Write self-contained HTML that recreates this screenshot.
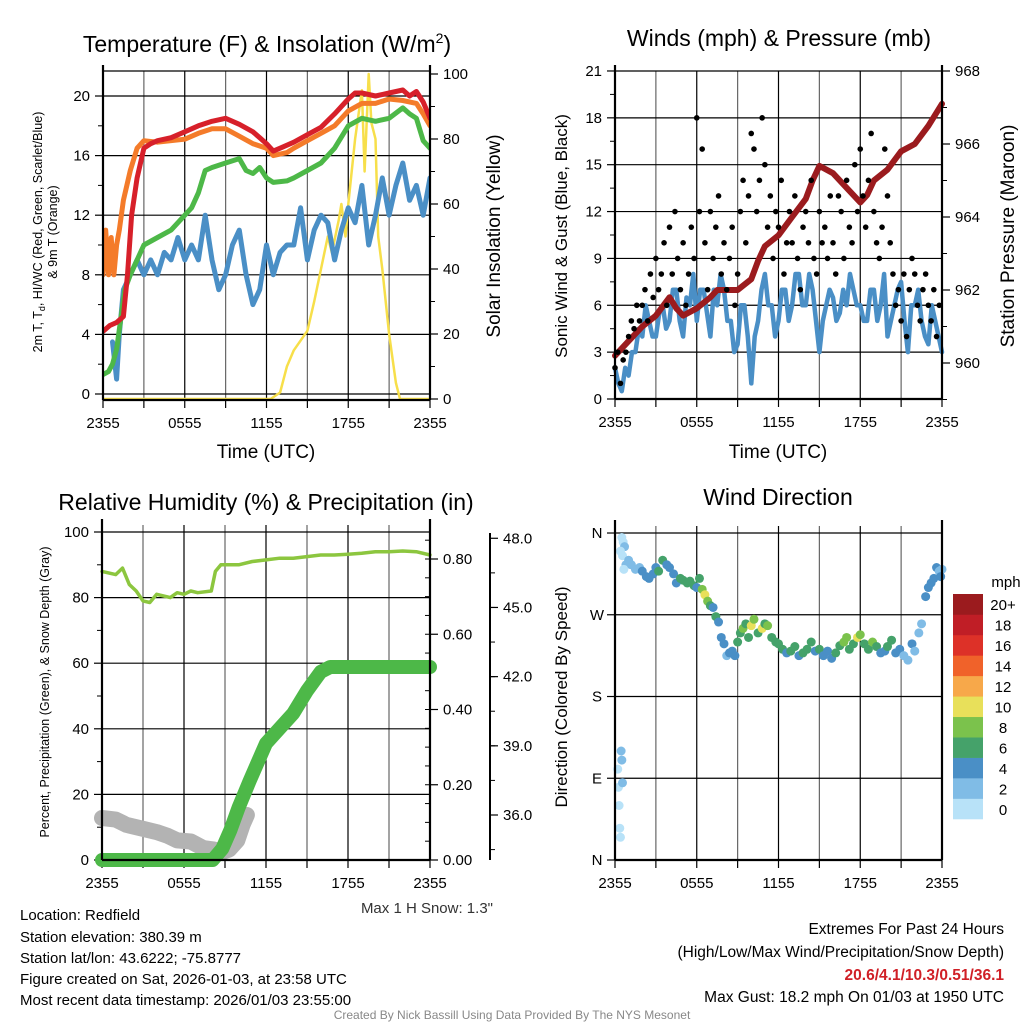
<!DOCTYPE html>
<html><head><meta charset="utf-8"><style>
body{margin:0;background:#fff}
svg{display:block;font-family:"Liberation Sans",Arial,sans-serif}
</style></head><body>
<svg id="c" width="1024" height="1024" viewBox="0 0 1024 1024">
<rect width="1024" height="1024" fill="#fff"/>
<g font-size="23" text-anchor="middle" fill="#000">
<text x="267" y="52">Temperature (F) &amp; Insolation (W/m<tspan font-size="14" dy="-9">2</tspan><tspan dy="9">)</tspan></text>
<text x="779" y="46">Winds (mph) &amp; Pressure (mb)</text>
<text x="266" y="510">Relative Humidity (%) &amp; Precipitation (in)</text>
<text x="778" y="505">Wind Direction</text>
</g>
<g font-size="19" text-anchor="middle">
<text x="266" y="458">Time (UTC)</text>
<text x="778" y="458">Time (UTC)</text>
<text transform="translate(500,236) rotate(-90)">Solar Insolation (Yellow)</text>
<text transform="translate(1014,236) rotate(-90)">Station Pressure (Maroon)</text>
</g>
<g font-size="17" text-anchor="middle">
<text transform="translate(567,236) rotate(-90)">Sonic Wind &amp; Gust (Blue, Black)</text>
<text transform="translate(567,697) rotate(-90)">Direction (Colored By Speed)</text>
</g>
<g font-size="12.5" text-anchor="middle">
<text transform="translate(42,232) rotate(-90)">2m T, T<tspan font-size="9" dy="3">d</tspan><tspan dy="-3">, HI/WC (Red, Green, Scarlet/Blue)</tspan></text>
<text transform="translate(57,232) rotate(-90)">&amp; 9m T (Orange)</text>
<text transform="translate(49,692) rotate(-90)">Percent, Precipitation (Green), &amp; Snow Depth (Gray)</text>
</g>
<text x="493" y="913" font-size="15" text-anchor="end" fill="#333">Max 1 H Snow: 1.3"</text>
<g font-size="15">
<text x="20" y="920">Location: Redfield</text>
<text x="20" y="942">Station elevation: 380.39 m</text>
<text x="20" y="963">Station lat/lon: 43.6222; -75.8777</text>
<text x="20" y="984">Figure created on Sat, 2026-01-03, at 23:58 UTC</text>
<text x="20" y="1005">Most recent data timestamp: 2026/01/03 23:55:00</text>
</g>
<g font-size="15.5" text-anchor="end">
<text x="1004" y="934">Extremes For Past 24 Hours</text>
<text x="1004" y="957">(High/Low/Max Wind/Precipitation/Snow Depth)</text>
<text x="1004" y="980" fill="#d01f26" font-weight="bold">20.6/4.1/10.3/0.51/36.1</text>
<text x="1004" y="1002">Max Gust: 18.2 mph On 01/03 at 1950 UTC</text>
</g>
<text x="512" y="1019" font-size="12" text-anchor="middle" fill="#888">Created By Nick Bassill Using Data Provided By The NYS Mesonet</text>
</svg>
<script>
// ---- Panel 1 data ----
const tRed=[0,0.5,1,1.5,1.8,2.1,2.5,3,3.5,4,5,6,7,8,9,10,11,11.5,12,12.5,13,14,15,16,17,18,18.5,19,20,21,22,22.5,23,23.5,24];
const vRed=[4.2,4.6,4.8,5.2,8,12,14.5,16.5,16.8,17,17.2,17.6,18,18.3,18.5,18.1,17.6,17.2,16.8,16.3,16.5,16.9,17.4,17.9,18.8,19.8,20.2,20.2,20.0,20.2,20.4,20.0,20.3,19.6,18.5];
const tOrg=[0,0.2,0.4,0.6,0.8,1,1.2,1.5,2,2.5,3,4,5,6,7,8,9,10,11,12,12.5,13.5,14,15,16,17,18,19,20,21,22,23,23.5,24];
const vOrg=[8,11,8,10.5,8,10,11,13,15,16.5,17,16.9,17,17.1,17.5,17.8,17.8,17.3,16.8,16.5,16.0,16.2,16.5,17,17.5,18,19,19.5,19.5,19.8,19.7,19.5,18.8,18];
const tGrn=[0,0.4,0.7,1,1.3,1.6,2,2.5,3,4,5,6,6.5,7,7.5,8,9,10,10.5,11,11.5,12,12.5,13.5,14,15,16,17,18,19,20,21,22,22.5,23,23.5,24];
const vGrn=[1.3,1.5,2,3,5,7,8,9,10,10.5,11,12,12.5,13.5,15,15.2,15.5,15.8,15,14.8,15.2,14.5,14.2,14.3,14.5,15,15.5,16.5,18,18.5,18.3,18.5,19.2,18.8,18.5,17,16.5];
const tBlu=[0.7,1,1.2,1.5,2,2.5,3,3.5,4,4.5,5,5.5,6,6.5,7,7.5,8,8.5,9,9.5,10,10.5,11,11.5,12,12.5,13,13.5,14,14.5,15,15.5,16,16.5,17,17.5,18,18.5,19,19.5,20,20.5,21,21.5,22,22.5,23,23.5,24];
const vBlu=[3.5,1,4,7,8,9,8,9,8,9.5,9,10.5,9,10,9,12,9,7,8,10,11,8,6,7,10,8,9.5,10,10,12.5,9,11,12,11.5,9,11,12.5,11.5,14,10,12,14.5,12,14,15.5,13,14,12,14.5];
const tSol=[0,12.3,13,13.5,14,15,15.5,16,16.5,16.8,17.3,17.5,17.8,18,18.5,19,19.2,19.5,19.7,20,20.2,20.5,21,21.5,21.8,24];
const vSol=[0,0,2,10,15,21,30,40,50,45,55,60,50,60,80,95,70,100,85,80,50,40,20,5,0,0];
// ---- Panel 2 data ----
const tPres=[0,1,2,3,4,4.5,5,6,7,7.5,8,9,10,10.5,11,12,13,14,14.5,15,16,17,18,18.5,19,20,21,22,23,24];
const vPres=[960.2,960.6,961,961.3,961.8,961.5,961.3,961.5,961.8,962,962,962,962.3,962.8,963.2,963.5,964,964.5,965,965.4,965.2,964.8,964.4,964.6,965,965.3,965.8,966,966.5,967.1];
const tWind=[0,0.25,0.5,0.75,1,1.25,1.5,1.75,2,2.25,2.5,2.75,3,3.25,3.5,3.75,4,4.25,4.5,4.75,5,5.25,5.5,5.75,6,6.25,6.5,6.75,7,7.25,7.5,7.75,8,8.25,8.5,8.75,9,9.25,9.5,9.75,10,10.25,10.5,10.75,11,11.25,11.5,11.75,12,12.25,12.5,12.75,13,13.25,13.5,13.75,14,14.25,14.5,14.75,15,15.25,15.5,15.75,16,16.25,16.5,16.75,17,17.25,17.5,17.75,18,18.25,18.5,18.75,19,19.25,19.5,19.75,20,20.25,20.5,20.75,21,21.25,21.5,21.75,22,22.25,22.5,22.75,23,23.25,23.5,23.75,24];
const vWind=[2,1,0.5,2,1.5,3,3,4.5,4,6,5,4,4,5.5,6,4.5,5,7,7,5,4,6.5,6,8,5,7,7,5.5,4,7,6,8,7,5,5,3,3.5,6,6,4,1,4,5,7,8,6,6,4,5,7,7,5,6,8,8,6,6,8,7,5,3,5,6,7,6.5,5,5.5,7,6,8,7,6,6,5,5,7,7,5,6,8,4,5,6,7,7.5,5,3,6,6,7,5,4,3.5,6,5,4,3];
const vGust=[2,3,1,2.5,3,4,5,4.5,6,5,6,7,5,8,6.5,9,7,8,10,6,11,8,12,9,7,10,6,8,11,9,18,12,16,10,7,12,9,11,13,8,10,7,9,11,6,8,12,14,10,13,17,16,12,14,18,15,11,13,9,12,11,14,8,10,12,10,13,9,7,11,12,10,14,9,8,12,10,11,9,13,10,8,13,12,9,14,11,10,15,12,16,13,11,14,17,12,10,9,11,16,13,10,8,6,7,5,8,4,7,9,8,6,5,7,8,6,5,7,4,6];
// ---- Panel 3 data ----
const tRH=[0,1,1.5,2,2.5,3,3.5,4,5,5.5,6,6.5,7,8,8.3,8.7,10,11,12,13,14,15,16,17,18,19,20,21,22,23,24];
const vRH=[88,87,89,84,82,79,78.5,81,80,81.5,81,82,81.5,82,88,90,90,91,91.5,92,92,92.5,93,93,93.2,93.5,94,94,94.2,94,93];
const tPcp=[0,8.1,8.8,9.4,10,10.8,12,13,14,15,16,16.7,24];
const vPcp=[0,0,0.03,0.08,0.14,0.21,0.31,0.35,0.39,0.45,0.5,0.513,0.513];
const tSnow=[0,1,1.8,3,4,4.8,5.5,6.5,7.4,8.2,8.8,9.3,9.9,10.3,10.6];
const vSnow=[35.87,35.8,35.57,35.4,35.26,35.1,34.9,34.85,34.57,34.5,34.4,34.5,34.9,35.6,36.0];
// ---- Panel 4 data ----
const tDir=[0.2,0.25,0.3,0.35,0.4,0.45,0.5,0.55,0.5,0.6,0.7,0.4,0.55,0.8,0.65,1,1.2,1.5,1.8,2,2.3,2.5,2.8,3,3.2,3.5,3.8,4,4.3,4.5,4.8,5,5.3,5.5,5.8,6,6.2,6.4,6.6,6.8,7,7.2,7.4,7.6,7.8,8,8.2,8.4,8.6,8.8,9,9.2,9.4,9.6,9.8,10,10.2,10.5,10.8,11,11.2,11.5,11.8,12,12.3,12.6,12.9,13.2,13.5,13.8,14.1,14.4,14.7,15,15.3,15.6,15.9,16.2,16.5,16.8,17,17.2,17.5,17.8,18,18.3,18.6,18.9,19.2,19.5,19.8,20,20.3,20.6,20.9,21.2,21.5,21.8,22,22.3,22.5,22.8,23,23.2,23.4,23.6,23.8,24,23.9];
const vDir=[100,80,60,35,25,120,110,85,355,350,345,340,335,325,320,330,325,320,322,318,312,310,315,322,318,330,325,322,315,305,310,308,305,307,302,300,310,298,292,285,280,278,268,262,245,238,225,228,230,225,240,250,255,260,245,258,265,250,255,260,258,245,240,238,232,228,230,235,225,228,232,240,230,232,225,230,222,228,236,240,245,232,238,245,248,238,232,240,235,228,230,235,242,228,232,225,220,238,230,250,260,290,300,305,310,322,318,320,312];
const vSpd=[1,1,1,1,1,2,2,3,1,1,2,1,1,2,1,2,2,3,3,4,4,4,5,4,6,6,4,5,4,4,6,6,6,6,6,5,7,8,10,8,6,5,6,4,4,4,3,4,5,4,6,6,8,7,7,10,8,6,10,6,8,7,6,6,6,5,6,6,4,6,6,6,4,6,5,4,4,6,6,8,8,6,7,10,8,6,6,8,6,5,4,6,6,5,4,3,3,4,3,3,3,4,5,4,4,4,2,3,4];
const cbLabels=["0","2","4","6","8","10","12","14","16","18","20+"];
const cbColors=["#b8e2f8","#80bce6","#4a8fc6","#45a26a","#7bc24c","#e8e05a","#f7a84a","#f0622a","#dd3128","#c01e26","#9b1b1e"];
const xTickLabels=["2355","0555","1155","1755","2355"];
const tempTicks=[0,4,8,12,16,20];
const solarTicks=[0,20,40,60,80,100];
const windTicks=[0,3,6,9,12,15,18,21];
const presTicks=[960,962,964,966,968];
const rhTicks=[0,20,40,60,80,100];
const pcpTicks=[0,0.2,0.4,0.6,0.8];
const snowTicks=[36,39,42,45,48];
const dirTicks=[0,90,180,270,360];
const dirLabels=["N","E","S","W","N"];

const NS="http://www.w3.org/2000/svg";
const svg=document.getElementById('c');
function el(tag,at,parent){const e=document.createElementNS(NS,tag);for(const k in at)e.setAttribute(k,at[k]);(parent||svg).appendChild(e);return e;}
function linePath(ts,vs,xf,yf){return ts.map((t,i)=>(i?'L':'M')+xf(t).toFixed(1)+','+yf(vs[i]).toFixed(1)).join('');}

const x1=t=>103+t*327/24, x2=t=>615+t*327/24, x3=t=>102+t*328/24, x4=t=>615+t*327/24;
const yT=v=>394-v*14.9, yS=v=>399-v*3.25;
const yW=v=>399-v*15.62, yP=p=>71+(968-p)*36.5;
const yR=v=>860-v*3.28, yPc=v=>860-v*376.25, ySn=v=>815-(v-36)*23.06;
const yD=d=>860-d*0.9083;

function grid(g,xf,L,R,T,B,hy){
  for(let h=0;h<=24;h+=3){el('line',{x1:xf(h),x2:xf(h),y1:T,y2:B,stroke:h%6?'#666':'#000','stroke-width':1.2},g);}
  hy.forEach(y=>el('line',{x1:L,x2:R,y1:y,y2:y,stroke:'#000','stroke-width':1.2},g));
}
function xaxis(g,xf,B){
  for(let h=0;h<=24;h+=3){el('line',{x1:xf(h),x2:xf(h),y1:B,y2:B+8,stroke:'#000','stroke-width':1.2},g);}
  xTickLabels.forEach((s,i)=>{const t=el('text',{x:xf(i*6),y:B+28,'font-size':15,'text-anchor':'middle'},g);t.textContent=s;});
}
function yaxis(g,x,ticks,yf,fmt,side,minor){
  const d=side<0?-1:1;
  ticks.forEach(v=>{const y=yf(v);el('line',{x1:x,x2:x+d*8,y1:y,y2:y,stroke:'#000','stroke-width':1.2},g);
    const t=el('text',{x:x+d*13,y:y+5,'font-size':15,'text-anchor':d<0?'end':'start'},g);t.textContent=fmt(v);});
  if(minor)minor.forEach(v=>{const y=yf(v);el('line',{x1:x,x2:x+d*5,y1:y,y2:y,stroke:'#000','stroke-width':1},g);});
}
function frame(g,L,R,T,B){
  el('line',{x1:L,x2:L,y1:T-6,y2:B,stroke:'#000','stroke-width':2.2},g);
  el('line',{x1:R,x2:R,y1:T-6,y2:B,stroke:'#000','stroke-width':2.2},g);
  el('line',{x1:L,x2:R,y1:B,y2:B,stroke:'#000','stroke-width':2.2},g);
}
function series(g,name,ts,vs,xf,yf,color,w){
  const p=el('path',{d:linePath(ts,vs,xf,yf),fill:'none',stroke:color,'stroke-width':w,'stroke-linejoin':'round','stroke-linecap':'round'},g);
  
  
  return p;
}
const range=(a,b,s)=>{const r=[];for(let v=a;v<=b+1e-9;v+=s)r.push(v);return r;};

// Panel 1
const g1=el('g',{});


const cp=el('clipPath',{id:'cp1'},g1);
el('rect',{x:103,y:60,width:327,height:340},cp);
grid(g1,x1,103,430,71,400,tempTicks.map(yT).concat([71]));
xaxis(g1,x1,400);
yaxis(g1,103,tempTicks,yT,v=>v,-1,range(2,20,4));
yaxis(g1,430,solarTicks,yS,v=>v,1,range(10,90,20));
const d1=el('g',{'clip-path':'url(#cp1)'},g1);
series(d1,'solar-line',tSol,vSol,x1,yS,'#f7df4a',2.5);
series(d1,'heat-index-line',tBlu,vBlu,x1,yT,'#4a8fc6',5);
series(d1,'dewpoint-line',tGrn,vGrn,x1,yT,'#4db848',5);
series(d1,'temp-9m-line',tOrg,vOrg,x1,yT,'#f47b2a',5);
series(d1,'temp-2m-line',tRed,vRed,x1,yT,'#d7202a',5);
frame(g1,103,430,71,400);

// Panel 2
const g2=el('g',{});


grid(g2,x2,615,942,71,399,windTicks.map(yW));
xaxis(g2,x2,399);
yaxis(g2,615,windTicks,yW,v=>v,-1,range(1.5,19.5,3));
yaxis(g2,942,presTicks,yP,v=>v,1,range(959,967,2));
series(g2,'wind-speed-line',tWind,vWind,x2,yW,'#4a8fc6',4.5);
series(g2,'pressure-line',tPres,vPres,x2,yP,'#9b1b1e',6);
vGust.forEach((v,i)=>{const c=el('circle',{cx:x2(i*0.2),cy:yW(v),r:2.8,fill:'#000'},g2);
  
  });
frame(g2,615,942,71,399);

// Panel 3
const g3=el('g',{});


grid(g3,x3,102,430,525,860,rhTicks.map(yR));
xaxis(g3,x3,860);
yaxis(g3,102,rhTicks,yR,v=>v,-1,range(10,90,20));
yaxis(g3,430,pcpTicks,yPc,v=>v.toFixed(2),1,null);
range(0.05,0.85,0.05).forEach(v=>{const y=yPc(v);el('line',{x1:430,x2:425,y1:y,y2:y,stroke:'#000','stroke-width':1},g3);});
el('line',{x1:490,x2:490,y1:533,y2:860,stroke:'#000','stroke-width':2},g3);
yaxis(g3,490,snowTicks,ySn,v=>v.toFixed(1),1,range(34.5,46.5,1.5));
series(g3,'snow-depth-line',tSnow,vSnow,x3,ySn,'#b3b3b3',16);
series(g3,'precipitation-line',tPcp,vPcp,x3,yPc,'#4db848',14);
series(g3,'rh-line',tRH,vRH,x3,yR,'#8cc63f',3.5);
frame(g3,102,430,525,860);

// Panel 4
const g4=el('g',{});


grid(g4,x4,615,942,526,860,dirTicks.map(yD));
xaxis(g4,x4,860);
dirTicks.forEach((d,i)=>{const y=yD(d);el('line',{x1:615,x2:607,y1:y,y2:y,stroke:'#000','stroke-width':1.2},g4);
  const t=el('text',{x:597,y:y+5,'font-size':15,'text-anchor':'middle'},g4);t.textContent=dirLabels[i];});
tDir.forEach((t,i)=>{const k=Math.min(10,Math.floor(vSpd[i]/2));
  const c=el('circle',{cx:x4(t),cy:yD(vDir[i]),r:4.5,fill:cbColors[k]},g4);
  
  });
frame(g4,615,942,526,860);

// Colorbar
const cb=el('g',{});


const hb=225/11;
cbColors.forEach((c,i)=>{const y=819-(i+1)*hb;
  const r=el('rect',{x:953,y:y,width:30,height:hb+0.3,fill:c},cb);
  
  
  const t=el('text',{x:1003,y:y+hb/2+6,'font-size':15,'text-anchor':'middle'},cb);t.textContent=cbLabels[i];});
const mt=el('text',{x:1006,y:587,'font-size':15,'text-anchor':'middle'},cb);mt.textContent='mph';
</script>
</body></html>
